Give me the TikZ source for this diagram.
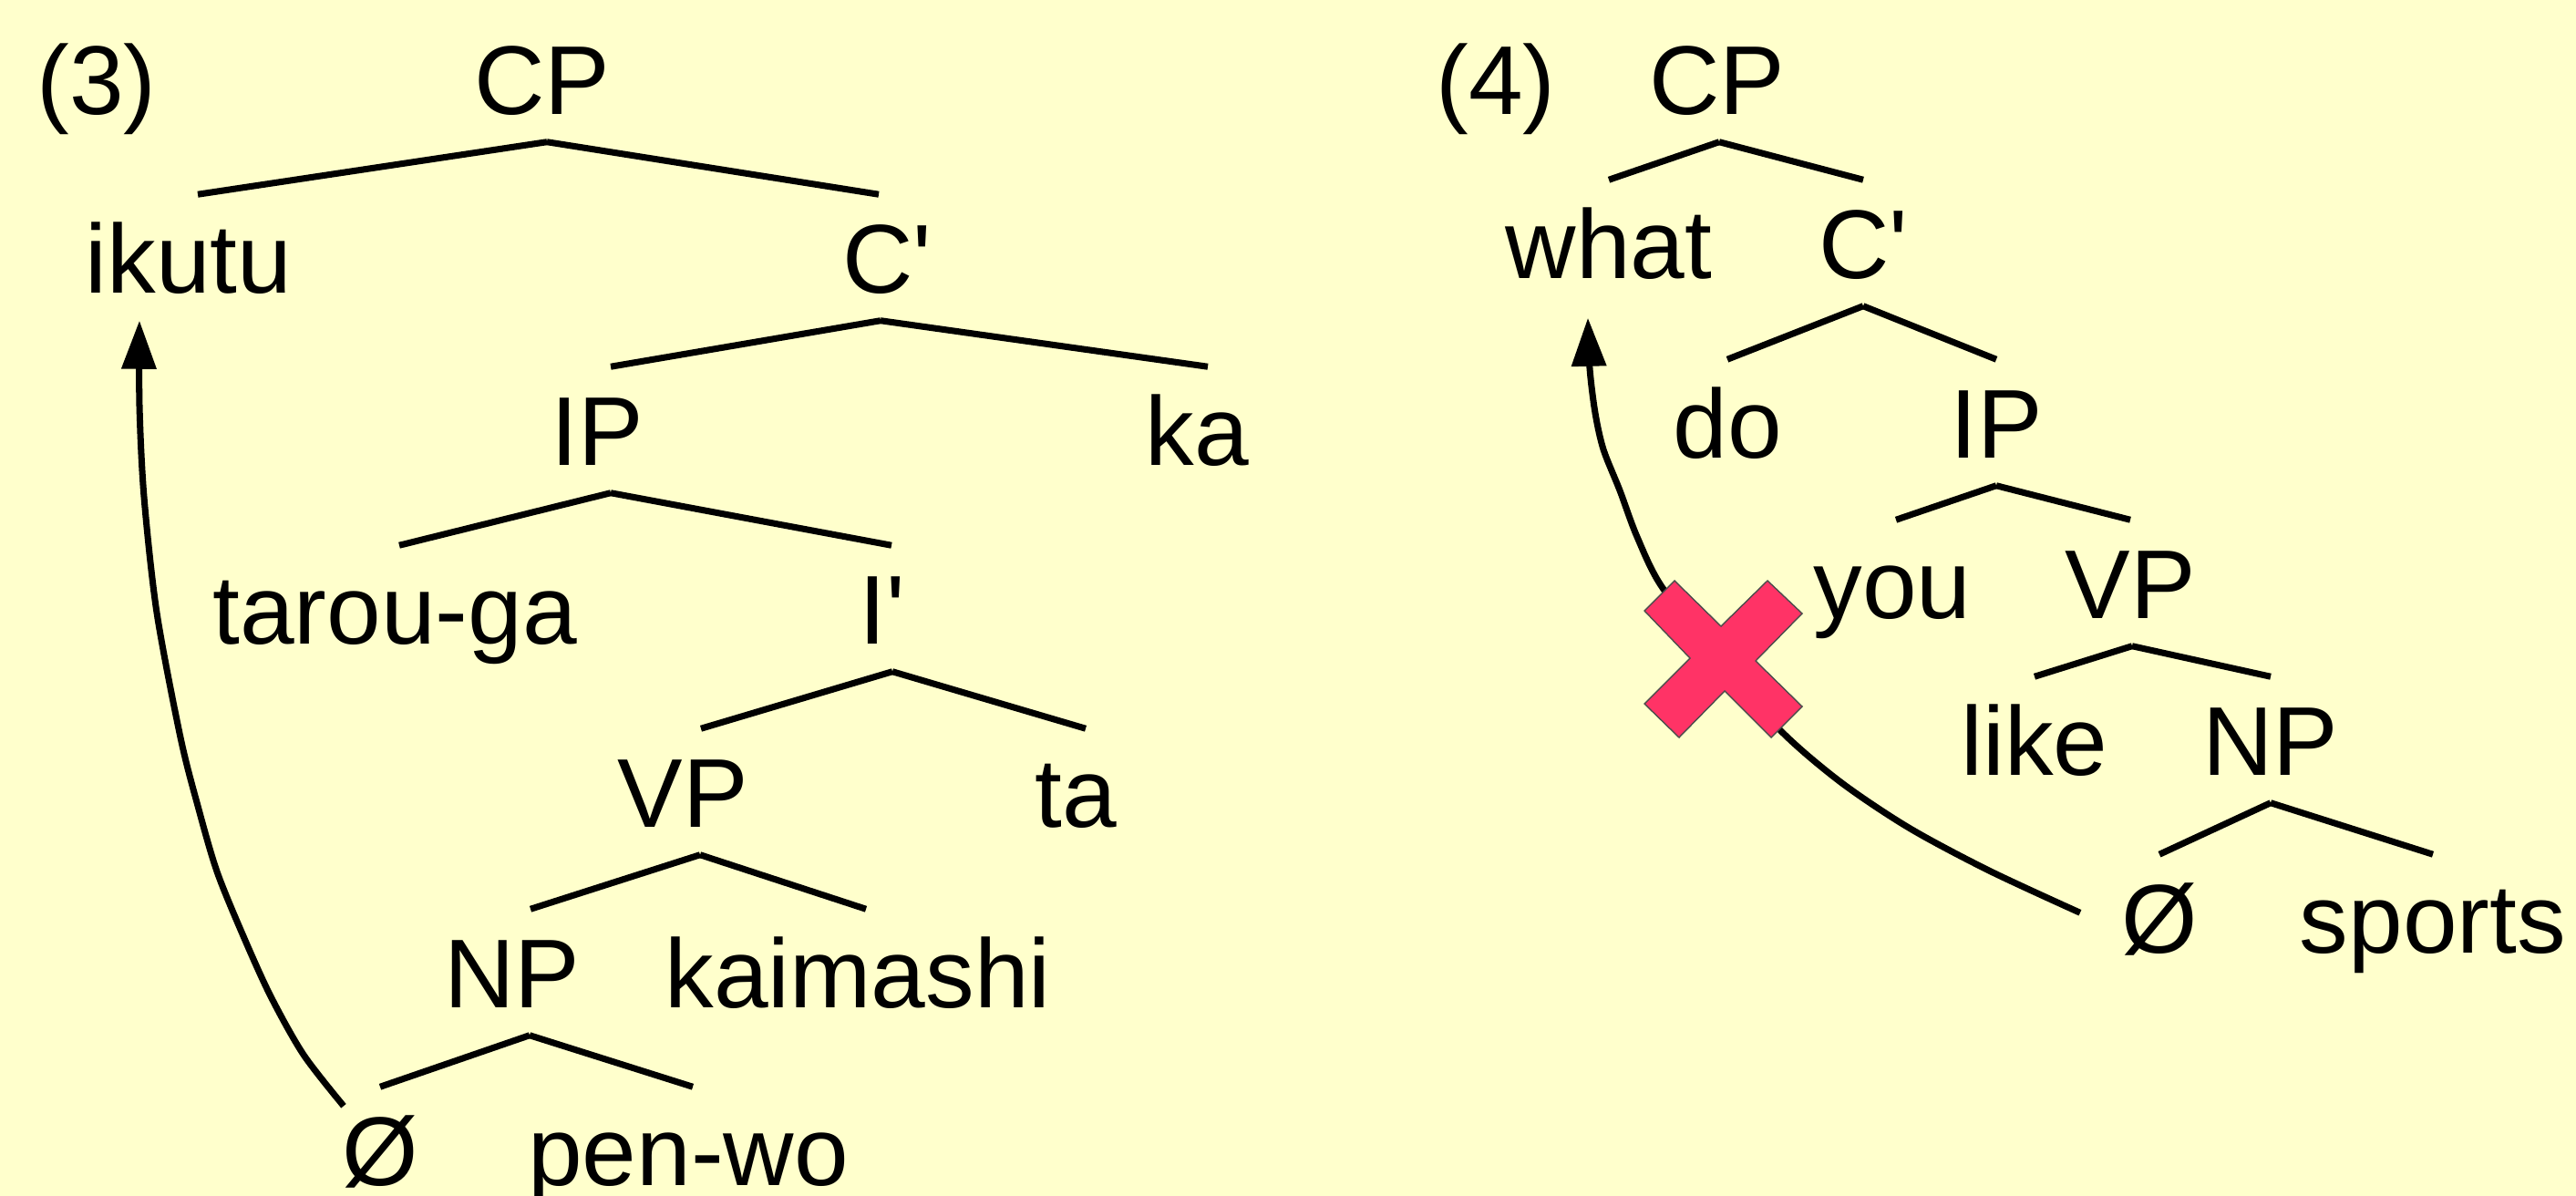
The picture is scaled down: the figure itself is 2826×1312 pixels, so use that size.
\documentclass[tikz,border=0pt]{standalone}
\usepackage{fontspec}
\setmainfont{Liberation Sans}
\usetikzlibrary{arrows.meta}
\definecolor{bgyellow}{HTML}{FFFFCC}
\definecolor{crossred}{HTML}{FF3366}
\newcommand\tbranch[4]{\draw[branchline] ([xshift=#2]#1.south) -- ([xshift=#4]#3.north);}
\begin{document}
\begin{tikzpicture}[x=0.01cm,y=-0.01cm,
  lbl/.style={anchor=base, inner sep=0pt, text height=1.07cm, text depth=0.30cm, font=\fontsize{30.5}{36}\selectfont},
  branchline/.style={line width=2pt},
  movearrow/.style={line width=2pt, -{Triangle[length=0.53cm,width=0.37cm]}},
  cross/.style={fill=crossred, draw=black!70, line width=0.4pt}]
\fill[bgyellow] (0,0) rectangle (2826,1312);
\useasboundingbox (0,0) rectangle (2826,1312);
% ---- tree (3)
\node[lbl] (ex3) at (106,125) {(3)};
\node[lbl] (lCP) at (595,125) {CP};
\node[lbl] (ikutu) at (207,321) {ikutu};
\node[lbl] (lCb) at (973,321) {C\textquotesingle};
\node[lbl] (lIP) at (655,510) {IP};
\node[lbl] (ka) at (1313,510) {ka};
\node[lbl] (tarou) at (433,706) {tarou-ga};
\node[lbl] (lIb) at (968,706) {I\textquotesingle};
\node[lbl] (lVP) at (749,907) {VP};
\node[lbl] (ta) at (1180,907) {ta};
\node[lbl] (lNP) at (562,1105) {NP};
\node[lbl] (kaimashi) at (941,1105) {kaimashi};
\node[lbl] (lzero) at (417,1300) {Ø};
\node[lbl] (penwo) at (755,1300) {pen-wo};
\tbranch{lCP}{0.05cm}{ikutu}{0.10cm}
\tbranch{lCP}{0.05cm}{lCb}{-0.09cm}
\tbranch{lCb}{-0.07cm}{lIP}{0.15cm}
\tbranch{lCb}{-0.07cm}{ka}{0.12cm}
\tbranch{lIP}{0.15cm}{tarou}{0.05cm}
\tbranch{lIP}{0.15cm}{lIb}{0.10cm}
\tbranch{lIb}{0.11cm}{lVP}{0.20cm}
\tbranch{lIb}{0.11cm}{ta}{0.11cm}
\tbranch{lVP}{0.19cm}{lNP}{0.20cm}
\tbranch{lVP}{0.19cm}{kaimashi}{0.09cm}
\tbranch{lNP}{0.19cm}{lzero}{0cm}
\tbranch{lNP}{0.19cm}{penwo}{0.05cm}
\draw[movearrow] plot[smooth, tension=0.5] coordinates {([xshift=-0.40cm,yshift=-0.21cm]lzero.north) (333,1157) (297,1093) (267,1027) (238,956) (217,884) (198,809) (172,672) (158,545) (153,445) ([xshift=-0.54cm]ikutu.south)};
% ---- tree (4)
\node[lbl] (ex4) at (1641,125) {(4)};
\node[lbl] (rCP) at (1884,125) {CP};
\node[lbl] (what) at (1765,305) {what};
\node[lbl] (rCb) at (2044,305) {C\textquotesingle};
\node[lbl] (do) at (1895,502) {do};
\node[lbl] (rIP) at (2190,502) {IP};
\node[lbl] (you) at (2076,678) {you};
\node[lbl] (rVP) at (2337,678) {VP};
\node[lbl] (like) at (2232,850) {like};
\node[lbl] (rNP) at (2491,850) {NP};
\node[lbl] (rzero) at (2369,1045) {Ø};
\node[lbl] (sports) at (2669,1045) {sports};
\tbranch{rCP}{0.02cm}{what}{0cm}
\tbranch{rCP}{0.02cm}{rCb}{0cm}
\tbranch{rCb}{0cm}{do}{0cm}
\tbranch{rCb}{0cm}{rIP}{0cm}
\tbranch{rIP}{0cm}{you}{0.04cm}
\tbranch{rIP}{0cm}{rVP}{0cm}
\tbranch{rVP}{0.02cm}{like}{0cm}
\tbranch{rVP}{0.02cm}{rNP}{0cm}
\tbranch{rNP}{0cm}{rzero}{0cm}
\tbranch{rNP}{0cm}{sports}{0cm}
\draw[movearrow] plot[smooth, tension=0.5] coordinates {([xshift=-0.87cm,yshift=-0.64cm]rzero.north) (2182,955) (2094,908) (2018,857) (1951,799) (1888,722) (1824,645) (1796,589) (1777,538) (1759,493) (1750,453) (1744,404) ([xshift=-0.23cm,yshift=-0.13cm]what.south)};
\filldraw[cross] (1804,670) -- (1837,637) -- (1888,687) -- (1939,637) -- (1977,673) -- (1926,725) -- (1977,775) -- (1943,809) -- (1892,758) -- (1842,809) -- (1804,772) -- (1854,722) -- cycle;
\end{tikzpicture}
\end{document}
